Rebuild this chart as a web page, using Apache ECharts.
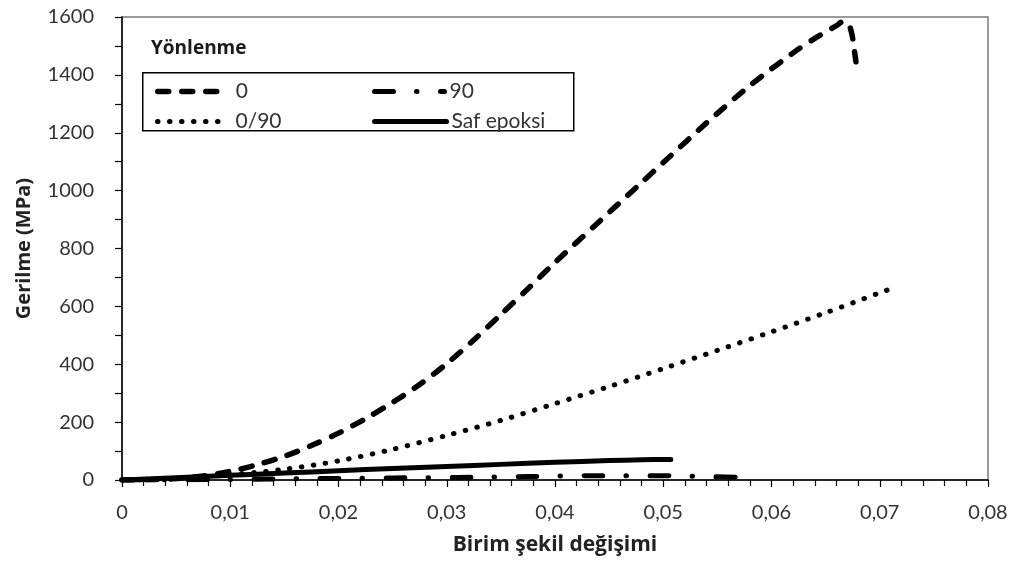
<!DOCTYPE html>
<html>
<head>
<meta charset="utf-8">
<script src="https://cdn.jsdelivr.net/npm/echarts@6/dist/echarts.min.js"></script>
<style>
  html, body { margin: 0; padding: 0; background: #fff; }
  #chart { width: 1016px; height: 567px; }
</style>
</head>
<body>
<div id="chart"></div>
<script>
// Stress–strain curves (strain, stress in MPa) by fibre orientation
const seriesNames = ['0', '90', '0/90', 'Saf epoksi'];

const curve0 = [
  [0, 0], [0.0025, 1], [0.005, 5], [0.0075, 14], [0.01, 30], [0.0125, 53],
  [0.015, 82], [0.0175, 119], [0.02, 162], [0.0225, 212], [0.025, 268],
  [0.0275, 330], [0.03, 402], [0.0325, 484], [0.035, 572], [0.0375, 661],
  [0.04, 752], [0.044, 890], [0.048, 1028], [0.05, 1097], [0.054, 1234],
  [0.058, 1363], [0.062, 1476], [0.064, 1526], [0.066, 1570], [0.0666, 1584],
  [0.0671, 1576], [0.0674, 1545], [0.0676, 1500], [0.0678, 1445]
];

const curve90 = [
  [0, 0], [0.01, 2], [0.019, 5], [0.025, 7], [0.031, 9], [0.0375, 12],
  [0.0437, 15], [0.05, 15], [0.053, 13], [0.0568, 9]
];

const curve0_90 = [
  [0, 0], [0.005, 6], [0.01, 18], [0.015, 37], [0.02, 66], [0.025, 106],
  [0.03, 154], [0.035, 206], [0.04, 264], [0.045, 323], [0.05, 385],
  [0.055, 448], [0.06, 512], [0.065, 578], [0.0708, 658]
];

const curveEpoxy = [
  [0, 0], [0.005, 8], [0.01, 16], [0.015, 24], [0.02, 32], [0.025, 40],
  [0.03, 47], [0.035, 54], [0.04, 61], [0.045, 67], [0.048, 70], [0.0507, 71]
];

const xTicks = { min: 0, max: 0.08, interval: 0.01 };
const yTicks = { min: 0, max: 1600, interval: 200 };

const FONT = 'Lato';
const TITLE_FONT = 'Open Sans';
const TEXT = '#333333';

const chart = echarts.init(document.getElementById('chart'), null, { renderer: 'canvas' });

function lineSeries(name, data, width, dash) {
  return {
    name: name,
    type: 'line',
    data: data,
    showSymbol: false,
    symbol: 'none',
    smooth: 0.3,
    lineStyle: { color: '#000', width: width, type: dash, cap: 'round', join: 'round' },
    itemStyle: { color: '#000' },
    emphasis: { disabled: true },
    animation: false,
    z: 3
  };
}

function legendAt(name, left, top, itemWidth, textPad, lineWidth) {
  return {
    data: [name],
    left: left,
    top: top,
    padding: 0,
    itemWidth: itemWidth,
    itemHeight: 14,
    selectedMode: false,
    itemStyle: { opacity: 0, borderWidth: 0 },
    lineStyle: { width: lineWidth, cap: 'round', join: 'round' },
    textStyle: { fontFamily: FONT, fontSize: 21, color: TEXT, padding: [0, 0, 0, textPad] }
  };
}

const option = {
  backgroundColor: '#ffffff',
  animation: false,
  grid: {
    left: 122, right: 28, top: 17, bottom: 87,
    show: true, borderColor: '#7a7a7a', borderWidth: 1.5, backgroundColor: 'transparent'
  },
  legend: [
    legendAt('0', 155, 81, 65, 8, 5.5),
    legendAt('90', 372, 81, 70, 0, 5),
    legendAt('0/90', 155, 111, 65, 8, 5),
    legendAt('Saf epoksi', 372, 111, 72, 0, 5)
  ],
  graphic: [
    {
      type: 'rect', left: 142, top: 72, z: 1,
      shape: { width: 431, height: 58 },
      style: { fill: '#fff', stroke: '#000', lineWidth: 1.5 }
    },
    {
      type: 'text', left: 151, top: 39, z: 2,
      style: { text: 'Yönlenme', font: 'bold 19px "' + TITLE_FONT + '"', fill: '#1a1a1a' }
    }
  ],
  xAxis: {
    type: 'value',
    min: xTicks.min, max: xTicks.max, interval: xTicks.interval,
    name: 'Birim şekil değişimi',
    nameLocation: 'middle',
    nameGap: 55,
    nameTextStyle: { fontFamily: TITLE_FONT, fontSize: 21, fontWeight: 'bold', color: '#222' },
    axisLine: { show: true, onZero: false, lineStyle: { color: '#000', width: 1.5 } },
    axisTick: { show: true, inside: false, length: 7, lineStyle: { color: '#000', width: 1.2 } },
    minorTick: { show: true, splitNumber: 5, length: 6, lineStyle: { color: '#000', width: 1.2 } },
    splitLine: { show: false },
    axisLabel: {
      margin: 23,
      fontFamily: FONT, fontSize: 20, color: TEXT,
      formatter: function (v) {
        if (Math.abs(v) < 1e-9) return '0';
        return (Math.round(v * 100) / 100).toFixed(2).replace('.', ',');
      }
    }
  },
  yAxis: {
    type: 'value',
    min: yTicks.min, max: yTicks.max, interval: yTicks.interval,
    name: 'Gerilme (MPa)',
    nameLocation: 'middle',
    nameGap: 88,
    nameTextStyle: { fontFamily: TITLE_FONT, fontSize: 20, fontWeight: 'bold', color: '#222' },
    axisLine: { show: true, lineStyle: { color: '#000', width: 1.5 } },
    axisTick: { show: true, inside: false, length: 7, lineStyle: { color: '#000', width: 1.2 } },
    minorTick: { show: true, splitNumber: 2, length: 7, lineStyle: { color: '#000', width: 1.2 } },
    splitLine: { show: false },
    axisLabel: {
      margin: 28, fontFamily: FONT, fontSize: 20, color: TEXT,
      formatter: function (v) { return String(v); }
    }
  },
  series: [
    lineSeries(seriesNames[0], curve0, 5.5, [11, 13]),
    lineSeries(seriesNames[1], curve90, 5, [19, 23, 0.5, 23.5]),
    lineSeries(seriesNames[2], curve0_90, 5, [0.5, 11.5]),
    lineSeries(seriesNames[3], curveEpoxy, 5, 'solid')
  ]
};

chart.setOption(option);
</script>
</body>
</html>
